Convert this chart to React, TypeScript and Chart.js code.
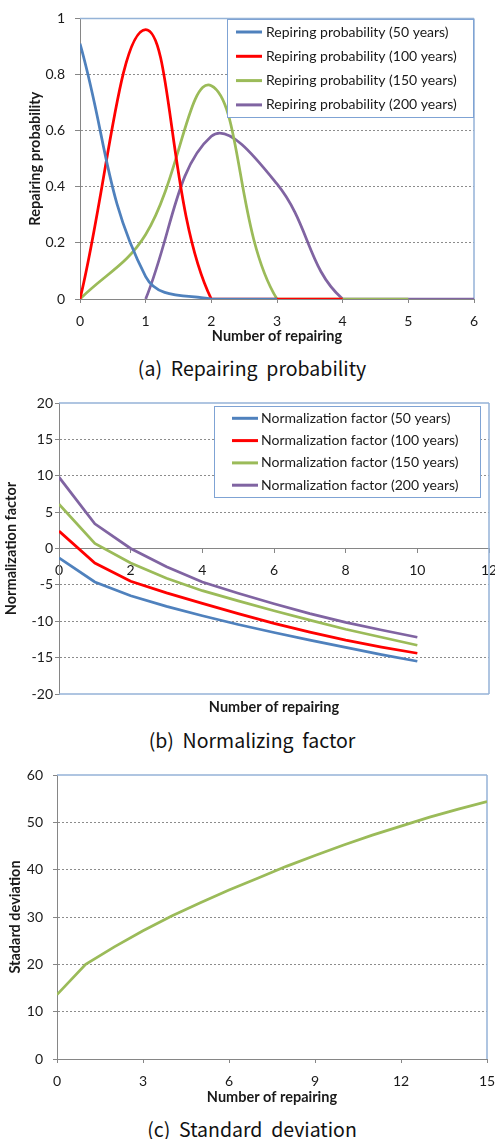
import React, { useEffect, useRef } from "react";
import { Chart, registerables } from "chart.js";

Chart.register(...registerables);

// ---------- (a) Repairing probability ----------
const repairCountsA = [0, 1, 2, 3, 4, 5, 6];
const prob50 = [0.91, 0.08, 0, 0, null, null, null];
const prob100 = [0, 0.96, 0, 0, 0, null, null];
const prob150 = [0, 0.23, 0.76, 0, 0, 0, null];
const prob200 = [null, 0, 0.58, 0.41, 0, 0, 0];
const probLabels = [
  "Repiring probability (50 years)",
  "Repiring probability (100 years)",
  "Repiring probability (150 years)",
  "Repiring probability (200 years)",
];

// ---------- (b) Normalizing factor ----------
const repairCountsB = [0, 1, 2, 3, 4, 5, 6, 7, 8, 9, 10];
const norm50 = [-1.3, -4.6, -6.5, -7.95, -9.25, -10.45, -11.55, -12.6, -13.6, -14.58, -15.5];
const norm100 = [2.4, -2.0, -4.5, -6.1, -7.55, -8.95, -10.3, -11.5, -12.6, -13.55, -14.4];
const norm150 = [6.1, 0.7, -2.0, -4.1, -5.8, -7.2, -8.55, -9.85, -11.1, -12.2, -13.3];
const norm200 = [9.8, 3.4, 0.0, -2.5, -4.6, -6.15, -7.6, -8.95, -10.15, -11.2, -12.2];
const normLabels = [
  "Normalization factor (50 years)",
  "Normalization factor (100 years)",
  "Normalization factor (150 years)",
  "Normalization factor (200 years)",
];

// ---------- (c) Standard deviation ----------
const repairCountsC = [0, 1, 2, 3, 4, 5, 6, 7, 8, 9, 10, 11, 12, 13, 14, 15];
const stdDev = [13.6, 20.0, 23.7, 27.1, 30.2, 33.0, 35.7, 38.2, 40.7, 43.0, 45.2, 47.3, 49.2, 51.1, 52.8, 54.4];

const SERIES_COLORS = ["#4f81bd", "#ff0000", "#9bbb59", "#8064a2"];
const AXIS = "#868686";
const GRID = "#8c8c8c";
const FRAME = "#95b3d7";
const TEXT = "#1a1a1a";
const FONT = "Lato, 'Liberation Sans', sans-serif";
const TICK_FONT = { family: FONT, size: 14 };
const TITLE_FONT = { family: FONT, size: 14.5, weight: "bold" as const };

const CANVAS_W = 510;

const frameBorder = {
  id: "frameBorder",
  beforeDatasetsDraw(chart: any, _a: any, opts: any) {
    const { ctx, chartArea: a } = chart;
    ctx.save();
    ctx.strokeStyle = opts.color;
    ctx.lineWidth = opts.width;
    ctx.beginPath();
    if (opts.top) { ctx.moveTo(a.left, a.top); ctx.lineTo(a.right, a.top); }
    if (opts.right) { ctx.moveTo(a.right, a.top); ctx.lineTo(a.right, a.bottom); }
    if (opts.bottom) { ctx.moveTo(a.left, a.bottom); ctx.lineTo(a.right, a.bottom); }
    ctx.stroke();
    ctx.restore();
  },
};

const boxLegend = {
  id: "boxLegend",
  afterDraw(chart: any, _a: any, opts: any) {
    if (!opts || !opts.show) return;
    const { ctx } = chart;
    ctx.save();
    ctx.fillStyle = "#ffffff";
    ctx.fillRect(opts.left, opts.top, opts.width, opts.height);
    ctx.strokeStyle = opts.borderColor;
    ctx.lineWidth = 1;
    ctx.strokeRect(opts.left + 0.5, opts.top + 0.5, opts.width, opts.height);
    chart.data.datasets.forEach((ds: any, i: number) => {
      const y = opts.top + opts.firstRow + i * opts.rowGap;
      ctx.strokeStyle = ds.borderColor;
      ctx.lineWidth = 3;
      ctx.beginPath();
      ctx.moveTo(opts.sampleX1, y);
      ctx.lineTo(opts.sampleX2, y);
      ctx.stroke();
      ctx.fillStyle = TEXT;
      ctx.font = `${opts.fontSize}px ${FONT}`;
      ctx.textBaseline = "middle";
      ctx.textAlign = "left";
      ctx.fillText(ds.label, opts.textX, y);
    });
    ctx.restore();
  },
};

function near(list: number[], v: number) {
  return list.some((x) => Math.abs(x - v) < 1e-9);
}

function plainNumber(v: any) {
  return String(Number(Number(v).toFixed(4)));
}

function yAxis(o: any) {
  return {
    type: "linear",
    min: o.min,
    max: o.max,
    ticks: { stepSize: o.step, padding: o.tickPad, color: TEXT, font: TICK_FONT, callback: plainNumber },
    grid: {
      color: (c: any) => (c.tick && near(o.hide, c.tick.value) ? "rgba(0,0,0,0)" : GRID),
      tickColor: AXIS,
      tickLength: o.tickLen,
      lineWidth: 1,
    },
    border: { display: true, color: AXIS, width: 1, dash: [2, 2] },
    title: {
      display: true,
      text: o.title,
      font: TITLE_FONT,
      color: TEXT,
      padding: { top: o.titlePad, bottom: 0 },
    },
    afterFit: (s: any) => { s.width = o.width; },
  };
}

function xAxis(o: any) {
  return {
    type: "linear",
    min: o.min,
    max: o.max,
    position: o.position || "bottom",
    ticks: { stepSize: o.step, padding: o.tickPad, color: TEXT, font: TICK_FONT, maxRotation: 0, callback: plainNumber },
    grid: { drawOnChartArea: false, drawTicks: true, tickLength: 4, tickColor: AXIS },
    border: { display: true, color: AXIS, width: 1 },
    title: o.title
      ? { display: true, text: o.title, font: TITLE_FONT, color: TEXT, padding: { top: 0, bottom: o.titlePad } }
      : { display: false },
    afterFit: (s: any) => { s.height = o.height; },
  };
}

function lineSet(label: string, xs: number[], ys: (number | null)[], color: string, tension: number) {
  return {
    label,
    data: xs.map((x, i) => ({ x, y: ys[i] })),
    borderColor: color,
    backgroundColor: color,
    borderWidth: 2.75,
    pointRadius: 0,
    pointHoverRadius: 0,
    tension,
    fill: false,
  };
}

function configA() {
  return {
    type: "line",
    data: {
      datasets: [prob50, prob100, prob150, prob200].map((s, i) =>
        lineSet(probLabels[i], repairCountsA, s, SERIES_COLORS[i], 0.4)
      ),
    },
    options: {
      responsive: false,
      animation: false,
      layout: { padding: { left: 0, right: CANVAS_W - 474, top: 15, bottom: 0 } },
      scales: {
        x: xAxis({ min: 0, max: 6, step: 1, tickPad: 10, height: 51, title: "Number of repairing", titlePad: 5 }),
        y: yAxis({ min: 0, max: 1, step: 0.2, tickPad: 10, tickLen: 5, width: 80, hide: [0, 1], title: "Repairing probability", titlePad: 27 }),
      },
      plugins: {
        legend: { display: false },
        tooltip: { enabled: false },
        frameBorder: { color: FRAME, width: 1.5, top: true, right: true, bottom: false },
        boxLegend: {
          show: true, left: 227, top: 19, width: 246, height: 98,
          firstRow: 13, rowGap: 24.3, sampleX1: 236, sampleX2: 262, textX: 266,
          fontSize: 14, borderColor: "#7fa3d4",
        },
      },
    },
    plugins: [frameBorder, boxLegend],
  };
}

function configB() {
  return {
    type: "line",
    data: {
      datasets: [norm50, norm100, norm150, norm200].map((s, i) =>
        lineSet(normLabels[i], repairCountsB, s, SERIES_COLORS[i], 0)
      ),
    },
    options: {
      responsive: false,
      animation: false,
      layout: { padding: { left: 0, right: CANVAS_W - 489, top: 23, bottom: 0 } },
      scales: {
        x: xAxis({ min: 0, max: 12, step: 2, tickPad: 10, height: 0, position: { y: 0 } }),
        x2: {
          type: "linear",
          position: "bottom",
          display: true,
          ticks: { display: false },
          grid: { display: false },
          border: { display: false },
          title: { display: true, text: "Number of repairing", font: TITLE_FONT, color: TEXT, padding: { top: 0, bottom: 4 } },
          afterFit: (s: any) => { s.height = 26; },
        },
        y: yAxis({ min: -20, max: 20, step: 5, tickPad: 2, tickLen: 4, width: 59, hide: [-20, 0, 20], title: "Normalization factor", titlePad: 3 }),
      },
      plugins: {
        legend: { display: false },
        tooltip: { enabled: false },
        frameBorder: { color: FRAME, width: 1.5, top: true, right: true, bottom: true },
        boxLegend: {
          show: true, left: 214, top: 26, width: 266, height: 91,
          firstRow: 12.3, rowGap: 22.3, sampleX1: 232, sampleX2: 258, textX: 261,
          fontSize: 14, borderColor: "#7fa3d4",
        },
      },
    },
    plugins: [frameBorder, boxLegend],
  };
}

function configC() {
  return {
    type: "line",
    data: {
      datasets: [lineSet("Standard deviation", repairCountsC, stdDev, SERIES_COLORS[2], 0)],
    },
    options: {
      responsive: false,
      animation: false,
      layout: { padding: { left: 0, right: CANVAS_W - 487, top: 25, bottom: 0 } },
      scales: {
        x: xAxis({ min: 0, max: 15, step: 3, tickPad: 10, height: 51, title: "Number of repairing", titlePad: 4 }),
        y: yAxis({ min: 0, max: 60, step: 10, tickPad: 10, tickLen: 4, width: 57, hide: [0, 60], title: "Stadard deviation", titlePad: 7 }),
      },
      plugins: {
        legend: { display: false },
        tooltip: { enabled: false },
        frameBorder: { color: FRAME, width: 1.5, top: true, right: true, bottom: false },
      },
    },
    plugins: [frameBorder],
  };
}

function ChartBox({ top, height, build }: { top: number; height: number; build: () => any }) {
  const ref = useRef<HTMLCanvasElement | null>(null);
  useEffect(() => {
    if (!ref.current) return;
    const chart = new Chart(ref.current, build());
    return () => chart.destroy();
  }, []);
  return (
    <canvas
      ref={ref}
      width={CANVAS_W}
      height={height}
      style={{ position: "absolute", left: 0, top, width: CANVAS_W, height, display: "block" }}
    />
  );
}

function Caption({ text, centerY }: { text: string; centerY: number }) {
  return (
    <div
      style={{
        position: "absolute",
        left: 0,
        width: 504,
        top: centerY - 14,
        height: 28,
        lineHeight: "28px",
        textAlign: "center",
        whiteSpace: "pre",
        fontFamily: "'Noto Sans CJK KR', 'Noto Sans', sans-serif",
        fontSize: 19.5,
        color: "#111",
      }}
    >
      {text}
    </div>
  );
}

export default function App() {
  return (
    <div
      style={{
        position: "fixed",
        left: 0,
        top: 0,
        width: 495,
        height: 1139,
        overflow: "hidden",
        background: "#ffffff",
      }}
    >
      <ChartBox top={0} height={350} build={configA} />
      <Caption text="(a)  Repairing  probability" centerY={368} />
      <ChartBox top={380} height={340} build={configB} />
      <Caption text="(b)  Normalizing  factor" centerY={740} />
      <ChartBox top={750} height={360} build={configC} />
      <Caption text="(c)  Standard  deviation" centerY={1129} />
    </div>
  );
}
